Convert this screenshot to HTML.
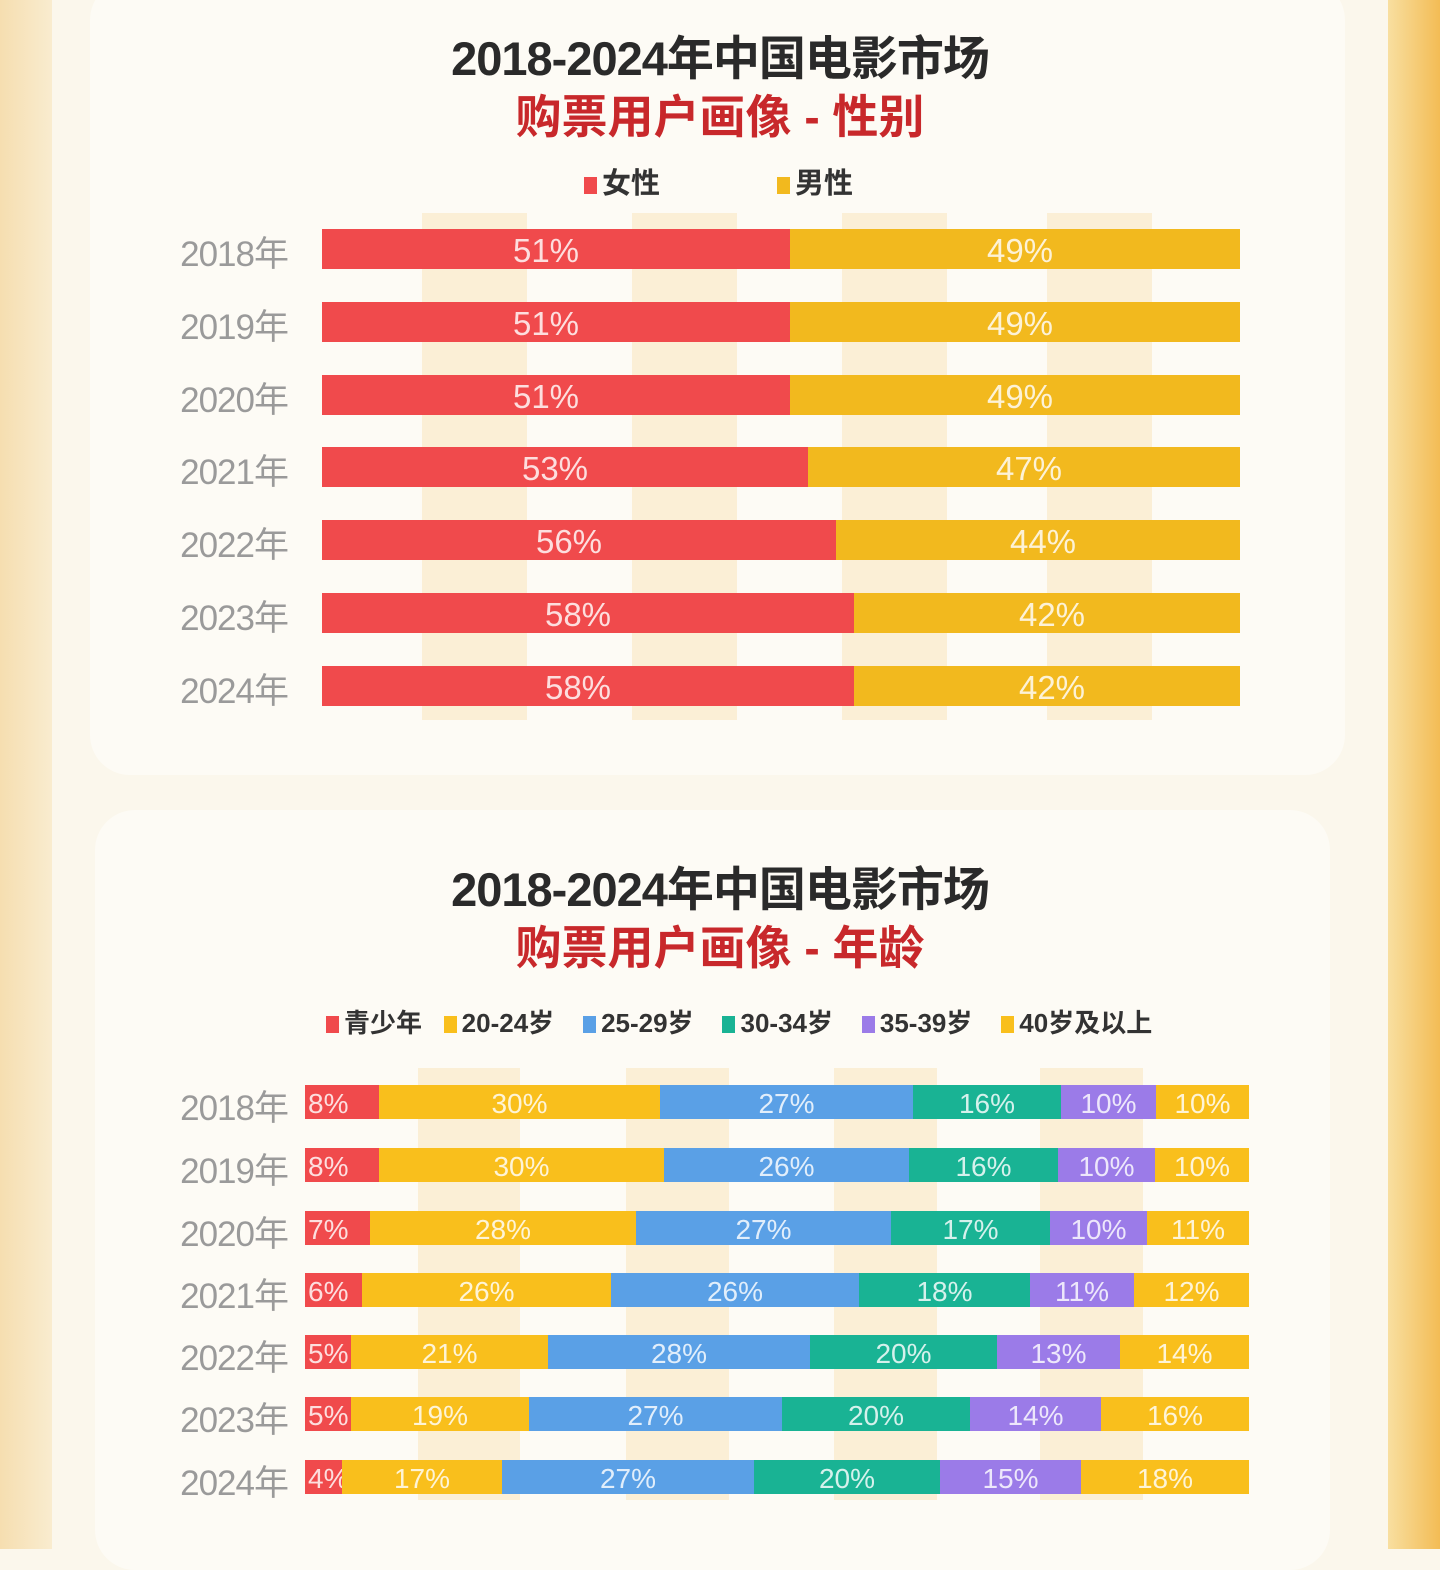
<!DOCTYPE html>
<html><head><meta charset="utf-8">
<style>
*{margin:0;padding:0;box-sizing:border-box}
body{width:1440px;height:1549px;position:relative;overflow:hidden;background:#fbf7ec;font-family:"Liberation Sans","Noto Sans CJK SC",sans-serif}
.a{position:absolute}
.t1{position:absolute;left:0;width:1440px;text-align:center;font-weight:bold;font-size:47px;color:#2a2a2a;letter-spacing:-1px}
.t2{position:absolute;left:0;width:1440px;text-align:center;font-weight:bold;font-size:46px;color:#c8282b}
.lab{position:absolute;color:#9a9a9a;font-size:35px;text-align:right;letter-spacing:-1px}
.seg{position:absolute;color:rgba(255,255,255,0.82);text-align:center;overflow:hidden;white-space:nowrap}
.leg{position:absolute;font-size:29px;font-weight:bold;color:#333;white-space:nowrap}
.sq{display:inline-block;width:13px;height:17px;margin-right:5px;vertical-align:-1px}
</style></head><body>
<div class="a" style="left:0;top:0;width:52px;height:1549px;background:linear-gradient(90deg,#f6deb0,#f9eccf)"></div>
<div class="a" style="left:1388px;top:0;width:52px;height:1549px;background:linear-gradient(90deg,#f8dfa0,#f3bc55)"></div>
<div class="a" style="left:90px;top:-20px;width:1255px;height:795px;background:#fdfbf5;border-radius:40px"></div>
<div class="a" style="left:95px;top:810px;width:1235px;height:760px;background:#fdfbf5;border-radius:40px"></div>

<div class="t1" style="top:20px">2018-2024年中国电影市场</div>
<div class="t2" style="top:81px">购票用户画像 - 性别</div>
<div class="leg" style="left:584px;top:160px"><span class="sq" style="background:#f04a4c"></span>女性</div>
<div class="leg" style="left:777px;top:160px"><span class="sq" style="background:#f2b91e"></span>男性</div>

<div class="t1" style="top:851px">2018-2024年中国电影市场</div>
<div class="t2" style="top:912px">购票用户画像 - 年龄</div>
<div class="leg" style="left:326px;top:1003px;font-size:26px">
<span class="sq" style="background:#f04a4c"></span>青少年&nbsp;&nbsp;&nbsp;<span class="sq" style="background:#f9bf1c"></span>20-24岁&nbsp;&nbsp;&nbsp;&nbsp;<span class="sq" style="background:#5aa0e6"></span>25-29岁&nbsp;&nbsp;&nbsp;&nbsp;<span class="sq" style="background:#19b394"></span>30-34岁&nbsp;&nbsp;&nbsp;&nbsp;<span class="sq" style="background:#9b7be8"></span>35-39岁&nbsp;&nbsp;&nbsp;&nbsp;<span class="sq" style="background:#f9bf1c"></span>40岁及以上</div>

<div id="c"></div>
<script>
var c=document.getElementById('c'),h='';
function d(s){h+=s}
[[422,527],[632,737],[842,947],[1047,1152]].forEach(function(p){d('<div class="a" style="left:'+p[0]+'px;top:213px;width:'+(p[1]-p[0])+'px;height:507px;background:#fbefd6"></div>')});
[[418,520],[626,729],[834,937],[1040,1143]].forEach(function(p){d('<div class="a" style="left:'+p[0]+'px;top:1068px;width:'+(p[1]-p[0])+'px;height:432px;background:#fbefd6"></div>')});
var yrs=['2018年','2019年','2020年','2021年','2022年','2023年','2024年'];
var gc=[249,322,395,467,540,613,686],gb=[790,790,790,808,836,854,854],gv=[[51,49],[51,49],[51,49],[53,47],[56,44],[58,42],[58,42]];
for(var i=0;i<7;i++){var t=gc[i]-20;
d('<div class="lab" style="left:140px;width:148px;top:'+(gc[i]-23)+'px">'+yrs[i]+'</div>');
d('<div class="seg" style="left:322px;top:'+t+'px;width:'+(gb[i]-322-20)+'px;height:40px;line-height:44px;font-size:33px;background:#f04a4c;overflow:visible"></div>');
d('<div class="seg" style="left:322px;top:'+t+'px;width:'+(gb[i]-322)+'px;height:40px;line-height:44px;font-size:33px;background:#f04a4c;padding-right:20px">'+gv[i][0]+'%</div>');
d('<div class="seg" style="left:'+gb[i]+'px;top:'+t+'px;width:'+(1240-gb[i])+'px;height:40px;line-height:44px;font-size:33px;background:#f2b91e;padding-left:10px">'+gv[i][1]+'%</div>');}
var ac=[1102,1165,1228,1290,1352,1414,1477];
var ab=[[305,379,660,913,1061,1156,1249],[305,379,664,909,1058,1155,1249],[305,370,636,891,1050,1147,1249],[305,362,611,859,1030,1134,1249],[305,351,548,810,997,1120,1249],[305,351,529,782,970,1101,1249],[305,342,502,754,940,1081,1249]];
var av=[[8,30,27,16,10,10],[8,30,26,16,10,10],[7,28,27,17,10,11],[6,26,26,18,11,12],[5,21,28,20,13,14],[5,19,27,20,14,16],[4,17,27,20,15,18]];
var col=['#f04a4c','#f9bf1c','#5aa0e6','#19b394','#9b7be8','#f9bf1c'];
for(var i=0;i<7;i++){var t=ac[i]-17;
d('<div class="lab" style="left:140px;width:148px;top:'+(ac[i]-22)+'px">'+yrs[i]+'</div>');
for(var j=0;j<6;j++){var st=j==0?'text-align:left;padding-left:3px;':'';
d('<div class="seg" style="'+st+'left:'+ab[i][j]+'px;top:'+t+'px;width:'+(ab[i][j+1]-ab[i][j])+'px;height:34px;line-height:38px;font-size:28px;background:'+col[j]+'">'+av[i][j]+'%</div>');}}
c.innerHTML=h;
</script>
</body></html>
